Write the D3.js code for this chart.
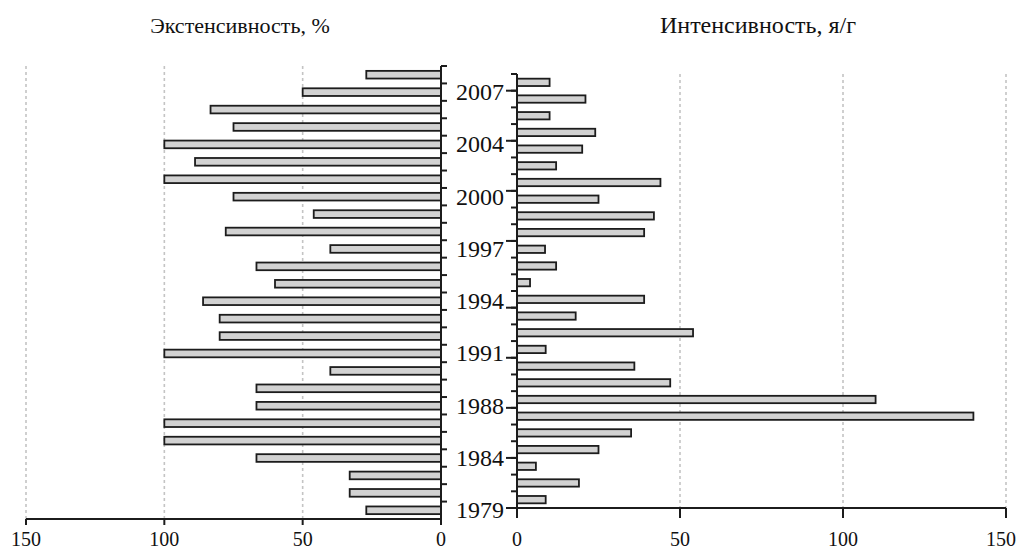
<!DOCTYPE html>
<html>
<head>
<meta charset="utf-8">
<script src="https://cdn.jsdelivr.net/npm/d3@7"></script>
<style>
  body { margin: 0; background: #fff; }
  svg { display: block; }
  text { font-family: "Liberation Serif", "Times New Roman", serif; fill: #111; }
</style>
</head>
<body>
<svg id="chart" width="1018" height="552"></svg>
<script>
// ---- data (bottom to top) ----
const years = ["1979","1980","1982","1984","1985","1986","1988","1989","1990","1991","1992","1993","1994","1995","1996","1997","1998","1999","2000","2002","2003","2004","2005","2006","2007","2008"];
const extensity = [27, 33, 33, 66.7, 100, 100, 66.7, 66.7, 40, 100, 80, 80, 86, 60, 66.7, 40, 77.8, 46, 75, 100, 88.9, 100, 75, 83.3, 50, 27];
const intensity = [8.8, 19, 5.8, 25, 35, 140, 110, 47, 36, 8.8, 54, 18, 39, 4, 12, 8.6, 39, 42, 25, 44, 12, 20, 24, 10, 21, 10];
const labelYears = ["1979","1984","1988","1991","1994","1997","2000","2004","2007"];
const xTicks = [0, 50, 100, 150];
const leftTitle = "Экстенсивность, %";
const rightTitle = "Интенсивность, я/г";

const W = 1018;
const svg = d3.select("#chart");
const ink = "#1c1c1c";
const barFill = "#d2d2d2";
const gridColor = "#c4c4c4";

// ---- scales ----
const xL = d3.scaleLinear().domain([0, 150]).range([441, 26]);
const yL = d3.scaleBand().domain(years).range([519, 66]).paddingInner(0.56).paddingOuter(0.28);
const xR = d3.scaleLinear().domain([0, 150]).range([517, 1006]);
const yR = d3.scaleBand().domain(years).range([508, 74]).paddingInner(0.56).paddingOuter(0.28);

// ---- grid ----
svg.append("g").selectAll("line").data(xTicks.filter(d => d > 0)).join("line")
  .attr("x1", d => xL(d)).attr("x2", d => xL(d))
  .attr("y1", 66).attr("y2", 519)
  .attr("stroke", gridColor).attr("stroke-width", 1.6).attr("stroke-dasharray", "3,3");
svg.append("g").selectAll("line").data(xTicks.filter(d => d > 0)).join("line")
  .attr("x1", d => xR(d)).attr("x2", d => xR(d))
  .attr("y1", 74).attr("y2", 508)
  .attr("stroke", gridColor).attr("stroke-width", 1.6).attr("stroke-dasharray", "3,3");

// ---- bars ----
svg.append("g").selectAll("rect").data(years).join("rect")
  .attr("x", (d, i) => xL(extensity[i]))
  .attr("y", d => yL(d))
  .attr("width", (d, i) => xL(0) - xL(extensity[i]))
  .attr("height", yL.bandwidth())
  .attr("fill", barFill).attr("stroke", ink).attr("stroke-width", 1.8);

svg.append("g").selectAll("rect").data(years).join("rect")
  .attr("x", xR(0))
  .attr("y", d => yR(d))
  .attr("width", (d, i) => xR(intensity[i]) - xR(0))
  .attr("height", yR.bandwidth())
  .attr("fill", barFill).attr("stroke", ink).attr("stroke-width", 1.8);

// ---- left axes ----
const stepL = yL.step();
const boundsL = d3.range(years.length + 1).map(k => 519 - k * stepL);
const gL = svg.append("g").attr("stroke", ink).attr("stroke-width", 2);
gL.append("line").attr("x1", xL(0)).attr("x2", xL(0)).attr("y1", 66).attr("y2", 525);
gL.selectAll(".tk").data(boundsL.slice(1)).join("line")
  .attr("x1", xL(0)).attr("x2", xL(0) + 6).attr("y1", d => d).attr("y2", d => d);
gL.append("line").attr("x1", xL(150)).attr("x2", xL(0)).attr("y1", 519).attr("y2", 519);
gL.selectAll(".xt").data(xTicks).join("line")
  .attr("x1", d => xL(d)).attr("x2", d => xL(d)).attr("y1", 519).attr("y2", 525);

svg.append("g").selectAll("text").data(xTicks).join("text")
  .attr("x", d => xL(d)).attr("y", 546)
  .attr("text-anchor", "middle")
  .attr("font-size", 20).text(d => d);

// ---- right axes ----
const stepR = yR.step();
const boundsR = d3.range(years.length + 1).map(k => 508 - k * stepR);
const gR = svg.append("g").attr("stroke", ink).attr("stroke-width", 2);
gR.append("line").attr("x1", xR(0)).attr("x2", xR(0)).attr("y1", 74).attr("y2", 518);
gR.selectAll(".tk").data(boundsR.slice(1)).join("line")
  .attr("x1", xR(0) - 6).attr("x2", xR(0)).attr("y1", d => d).attr("y2", d => d);
gR.append("line").attr("x1", xR(0)).attr("x2", xR(150)).attr("y1", 508).attr("y2", 508);
gR.selectAll(".xt").data(xTicks).join("line")
  .attr("x1", d => xR(d)).attr("x2", d => xR(d)).attr("y1", 508).attr("y2", 518);

svg.append("g").selectAll("text").data(xTicks).join("text")
  .attr("x", d => xR(d)).attr("y", 546)
  .attr("text-anchor", "middle")
  .attr("font-size", 20).text(d => d)
  .each(function (d) {
    const half = this.getComputedTextLength() / 2;
    if (xR(d) + half > W - 2) this.setAttribute("x", W - 2 - half);
  });

// ---- year labels (centred on the left bands, with a leader tick to the right axis) ----
const yLab = d => yL(d) + yL.bandwidth() / 2;
svg.append("g").selectAll("text").data(labelYears).join("text")
  .attr("x", 504).attr("y", d => yLab(d))
  .attr("text-anchor", "end").attr("dominant-baseline", "central")
  .attr("font-size", 24).text(d => d);
const nearestR = y => boundsR.reduce((a, b) => Math.abs(b - y) < Math.abs(a - y) ? b : a);
gR.selectAll(".lt").data(labelYears).join("line")
  .attr("x1", 506).attr("x2", xR(0))
  .attr("y1", d => nearestR(yLab(d))).attr("y2", d => nearestR(yLab(d)));

// ---- titles ----
svg.append("text").attr("x", 240).attr("y", 25)
  .attr("text-anchor", "middle").attr("dominant-baseline", "central")
  .attr("font-size", 22).text(leftTitle);
svg.append("text").attr("x", 758).attr("y", 25)
  .attr("text-anchor", "middle").attr("dominant-baseline", "central")
  .attr("font-size", 24).text(rightTitle);
</script>
</body>
</html>
